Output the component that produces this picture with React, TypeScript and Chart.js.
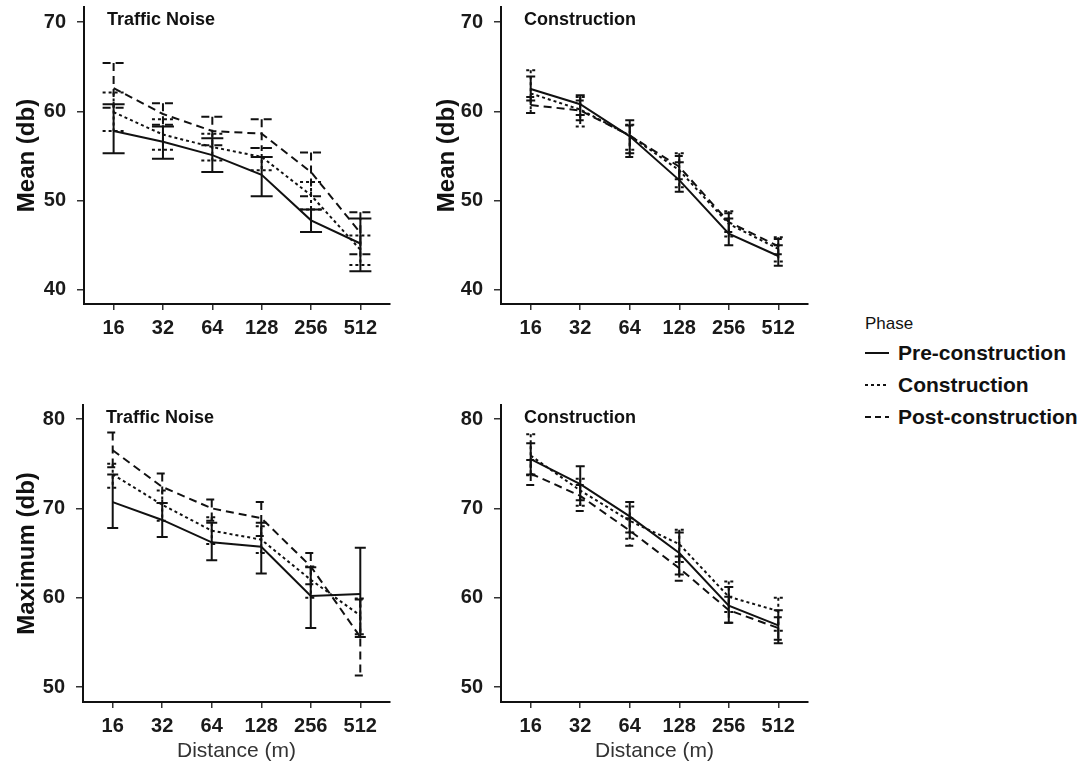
import React, { useEffect, useRef } from 'react';
import { Chart, registerables } from 'chart.js';
Chart.register(...registerables);

const distances = ['16', '32', '64', '128', '256', '512'];
const phases = ['Pre-construction', 'Construction', 'Post-construction'];
const meanTicks = [40, 50, 60, 70];
const maxTicks = [50, 60, 70, 80];

// Traffic Noise — Mean (db)
const tnMeanPre = [57.8, 56.6, 55.1, 52.9, 47.8, 45.2];
const tnMeanPreHi = [60.8, 58.3, 57.0, 54.9, 49.0, 48.0];
const tnMeanPreLo = [55.3, 54.7, 53.2, 50.5, 46.5, 42.1];
const tnMeanCon = [59.9, 57.4, 56.0, 54.9, 50.6, 44.5];
const tnMeanConHi = [62.1, 59.1, 57.5, 55.9, 52.1, 46.1];
const tnMeanConLo = [57.8, 55.7, 54.5, 53.4, 49.0, 42.8];
const tnMeanPost = [62.6, 59.7, 57.8, 57.5, 53.2, 46.4];
const tnMeanPostHi = [65.4, 60.9, 59.4, 59.1, 55.4, 48.7];
const tnMeanPostLo = [60.4, 58.5, 56.2, 55.9, 50.5, 44.0];

// Construction — Mean (db)
const coMeanPre = [62.5, 60.8, 57.2, 52.3, 46.3, 43.8];
const coMeanPreHi = [63.9, 61.8, 59.0, 54.3, 48.0, 45.0];
const coMeanPreLo = [61.2, 59.6, 55.3, 51.0, 45.0, 42.7];
const coMeanCon = [62.0, 60.2, 57.3, 53.4, 47.4, 44.6];
const coMeanConHi = [64.6, 61.6, 58.5, 55.3, 48.8, 45.9];
const coMeanConLo = [59.8, 58.3, 55.7, 51.5, 46.0, 43.2];
const coMeanPost = [60.7, 60.1, 57.3, 53.8, 47.6, 44.9];
const coMeanPostHi = [61.6, 61.2, 58.4, 55.0, 48.6, 45.7];
const coMeanPostLo = [59.8, 59.0, 54.9, 52.4, 46.5, 44.0];

// Traffic Noise — Maximum (db)
const tnMaxPre = [70.7, 68.7, 66.2, 65.7, 60.2, 60.4];
const tnMaxPreHi = [73.8, 70.6, 68.4, 68.4, 63.4, 65.6];
const tnMaxPreLo = [67.8, 66.8, 64.2, 62.7, 56.6, 55.6];
const tnMaxCon = [73.8, 70.4, 67.5, 66.5, 62.0, 58.0];
const tnMaxConHi = [75.0, 72.0, 69.0, 68.0, 63.5, 59.9];
const tnMaxConLo = [72.3, 68.6, 66.0, 65.0, 60.0, 55.9];
const tnMaxPost = [76.5, 72.4, 70.0, 68.9, 63.5, 55.6];
const tnMaxPostHi = [78.5, 73.9, 71.0, 70.7, 65.0, 59.8];
const tnMaxPostLo = [74.6, 70.6, 68.6, 66.9, 61.5, 51.3];

// Construction — Maximum (db)
const coMaxPre = [75.5, 72.7, 69.1, 65.0, 59.1, 56.9];
const coMaxPreHi = [77.3, 74.7, 70.7, 67.3, 61.2, 58.6];
const coMaxPreLo = [73.8, 70.9, 67.3, 62.6, 57.2, 54.9];
const coMaxCon = [75.9, 72.0, 68.6, 66.0, 60.1, 58.5];
const coMaxConHi = [78.3, 73.3, 70.2, 67.6, 61.8, 60.0];
const coMaxConLo = [73.7, 70.3, 66.6, 64.0, 58.4, 56.3];
const coMaxPost = [73.9, 71.4, 67.5, 63.3, 58.6, 56.6];
const coMaxPostHi = [75.4, 72.6, 68.9, 64.6, 60.1, 57.8];
const coMaxPostLo = [72.6, 69.7, 65.8, 61.9, 57.2, 55.3];

const FONT = '"Liberation Sans", Arial, Helvetica, sans-serif';
const INK = '#111';
const dashes: number[][] = [[], [3, 3], [8, 5]];

type Series = { mean: number[]; hi: number[]; lo: number[] };

type PanelProps = {
  left: number;
  top: number;
  width: number;
  height: number;
  axisWidth: number;
  xAxisHeight: number;
  padTop: number;
  padRight: number;
  capHalf: number;
  title: string;
  yTitle: string;
  xTitle?: string;
  yMin: number;
  yMax: number;
  yTicks: number[];
  series: Series[];
};

function Panel(p: PanelProps) {
  const ref = useRef<HTMLCanvasElement>(null);
  useEffect(() => {
    if (!ref.current) return;
    const errorBars = {
      id: 'errorBars',
      afterDatasetsDraw(chart: any) {
        const ctx = chart.ctx;
        const ys = chart.scales.y;
        const c = p.capHalf;
        chart.data.datasets.forEach((ds: any, i: number) => {
          const meta = chart.getDatasetMeta(i);
          ctx.save();
          ctx.strokeStyle = INK;
          ctx.lineWidth = 2;
          ctx.setLineDash(ds.borderDash || []);
          meta.data.forEach((pt: any, j: number) => {
            const x = pt.x;
            const yh = ys.getPixelForValue(ds.errHi[j]);
            const yl = ys.getPixelForValue(ds.errLo[j]);
            ctx.beginPath();
            ctx.moveTo(x, yh);
            ctx.lineTo(x, yl);
            ctx.moveTo(x - c, yh);
            ctx.lineTo(x + c, yh);
            ctx.moveTo(x - c, yl);
            ctx.lineTo(x + c, yl);
            ctx.stroke();
          });
          ctx.restore();
        });
      },
    };
    const panelTitle = {
      id: 'panelTitle',
      afterDraw(chart: any) {
        const ctx = chart.ctx;
        ctx.save();
        ctx.font = `bold 18px ${FONT}`;
        ctx.fillStyle = INK;
        ctx.textBaseline = 'middle';
        ctx.textAlign = 'left';
        ctx.fillText(p.title, chart.chartArea.left + 23, chart.chartArea.top + 13);
        ctx.restore();
      },
    };
    const chart = new Chart(ref.current, {
      type: 'line',
      data: {
        datasets: p.series.map((s, i) => ({
          label: phases[i],
          data: s.mean.map((v, j) => ({ x: j, y: v })),
          errHi: s.hi,
          errLo: s.lo,
          borderColor: INK,
          borderWidth: 2,
          borderDash: dashes[i],
          pointRadius: 0,
          fill: false,
          tension: 0,
        })) as any,
      },
      options: {
        animation: false,
        responsive: false,
        maintainAspectRatio: false,
        layout: { padding: { top: p.padTop, right: p.padRight, left: 0, bottom: 0 } },
        plugins: { legend: { display: false }, tooltip: { enabled: false } },
        scales: {
          x: {
            type: 'linear',
            min: -0.6,
            max: 5.6,
            afterBuildTicks: (scale: any) => {
              scale.ticks = distances.map((_, i) => ({ value: i }));
            },
            afterFit: (scale: any) => {
              scale.height = p.xAxisHeight;
              scale.paddingLeft = 0;
              scale.paddingRight = 0;
            },
            ticks: {
              callback: (v: any) => distances[v as number] ?? '',
              font: { family: FONT, size: 20, weight: 'bold' },
              color: '#1a1a1a',
              padding: 6,
              maxRotation: 0,
              autoSkip: false,
            },
            grid: { drawOnChartArea: false, drawTicks: true, tickLength: 6, color: '#333', lineWidth: 1.5 },
            border: { display: true, color: INK, width: 2 },
            title: p.xTitle
              ? { display: true, text: p.xTitle, font: { family: FONT, size: 21, lineHeight: 1 }, color: '#333', padding: { top: 0, bottom: 0 } }
              : { display: false },
          },
          y: {
            type: 'linear',
            min: p.yMin,
            max: p.yMax,
            afterBuildTicks: (scale: any) => {
              scale.ticks = p.yTicks.map((v) => ({ value: v }));
            },
            afterFit: (scale: any) => {
              scale.width = p.axisWidth;
              scale.paddingTop = 0;
              scale.paddingBottom = 0;
            },
            ticks: {
              font: { family: FONT, size: 20, weight: 'bold' },
              color: '#1a1a1a',
              padding: 11,
            },
            grid: { drawOnChartArea: false, drawTicks: true, tickLength: 7, color: '#333', lineWidth: 1.5 },
            border: { display: true, color: INK, width: 2 },
            title: { display: !!p.yTitle, text: p.yTitle, font: { family: FONT, size: 24, weight: 'bold' }, color: INK, padding: { top: 13, bottom: 0 } },
          },
        },
      } as any,
      plugins: [errorBars, panelTitle],
    });
    return () => chart.destroy();
  }, []);
  return (
    <canvas
      ref={ref}
      width={p.width}
      height={p.height}
      style={{ position: 'absolute', left: p.left, top: p.top, width: p.width, height: p.height }}
    />
  );
}

function LegendLine({ dash }: { dash: number[] }) {
  return (
    <svg width={26} height={10} style={{ display: 'block' }}>
      <line x1={0} y1={5} x2={24} y2={5} stroke={INK} strokeWidth={2} strokeDasharray={dash.length ? dash.join(' ') : undefined} />
    </svg>
  );
}

export default function App() {
  const legendDash: number[][] = [[], [3, 3], [6, 4]];
  return (
    <div style={{ position: 'absolute', left: 0, top: 0, width: 1089, height: 762, background: '#fff', overflow: 'hidden' }}>
      <Panel
        left={0} top={0} width={400} height={340} axisWidth={84} xAxisHeight={36} padTop={7} padRight={10} capHalf={11}
        title="Traffic Noise" yTitle="Mean (db)" yMin={38.43} yMax={71.68} yTicks={meanTicks}
        series={[
          { mean: tnMeanPre, hi: tnMeanPreHi, lo: tnMeanPreLo },
          { mean: tnMeanCon, hi: tnMeanConHi, lo: tnMeanConLo },
          { mean: tnMeanPost, hi: tnMeanPostHi, lo: tnMeanPostLo },
        ]}
      />
      <Panel
        left={420} top={0} width={400} height={340} axisWidth={81} xAxisHeight={36} padTop={7} padRight={12} capHalf={4.5}
        title="Construction" yTitle="Mean (db)" yMin={38.43} yMax={71.68} yTicks={meanTicks}
        series={[
          { mean: coMeanPre, hi: coMeanPreHi, lo: coMeanPreLo },
          { mean: coMeanCon, hi: coMeanConHi, lo: coMeanConLo },
          { mean: coMeanPost, hi: coMeanPostHi, lo: coMeanPostLo },
        ]}
      />
      <Panel
        left={0} top={390} width={400} height={372} axisWidth={83} xAxisHeight={60} padTop={15} padRight={10} capHalf={5.5}
        title="Traffic Noise" yTitle="Maximum (db)" xTitle="Distance (m)" yMin={48.32} yMax={81.57} yTicks={maxTicks}
        series={[
          { mean: tnMaxPre, hi: tnMaxPreHi, lo: tnMaxPreLo },
          { mean: tnMaxCon, hi: tnMaxConHi, lo: tnMaxConLo },
          { mean: tnMaxPost, hi: tnMaxPostHi, lo: tnMaxPostLo },
        ]}
      />
      <Panel
        left={420} top={390} width={400} height={372} axisWidth={81} xAxisHeight={60} padTop={15} padRight={12} capHalf={4.5}
        title="Construction" yTitle="" xTitle="Distance (m)" yMin={48.32} yMax={81.57} yTicks={maxTicks}
        series={[
          { mean: coMaxPre, hi: coMaxPreHi, lo: coMaxPreLo },
          { mean: coMaxCon, hi: coMaxConHi, lo: coMaxConLo },
          { mean: coMaxPost, hi: coMaxPostHi, lo: coMaxPostLo },
        ]}
      />
      <div style={{ position: 'absolute', left: 865, top: 313, fontFamily: FONT, color: INK }}>
        <div style={{ fontSize: 17, lineHeight: '22px', height: 22 }}>Phase</div>
        {phases.map((ph, i) => (
          <div key={ph} style={{ display: 'flex', alignItems: 'center', height: 32, marginTop: i === 0 ? 2 : 0 }}>
            <LegendLine dash={legendDash[i]} />
            <span style={{ marginLeft: 7, fontSize: 21, fontWeight: 'bold', lineHeight: '32px' }}>{ph}</span>
          </div>
        ))}
      </div>
    </div>
  );
}
